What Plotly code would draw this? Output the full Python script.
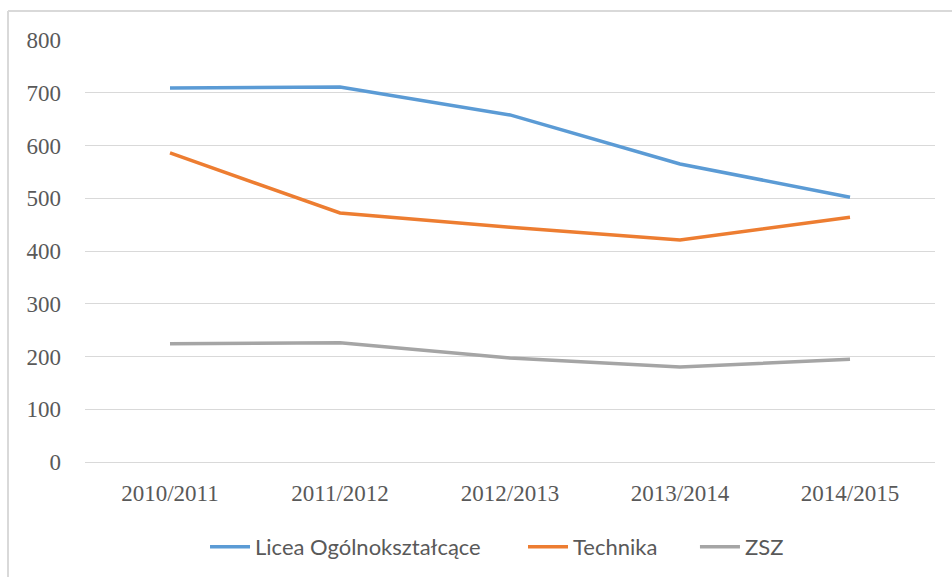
import plotly.graph_objects as go

years = ["2010/2011", "2011/2012", "2012/2013", "2013/2014", "2014/2015"]
licea = [709, 711, 658, 565, 502]
technika = [586, 472, 445, 421, 464]
zsz = [224, 226, 197, 180, 195]

series = [
    ("Licea Ogólnokształcące", licea, "#5B9BD5", "legend", 0.1412),
    ("Technika", technika, "#ED7D31", "legend2", 0.5153),
    ("ZSZ", zsz, "#A5A5A5", "legend3", 0.7176),
]

legend_font = dict(family="Lato, Liberation Sans, sans-serif", size=22, color="#595959")

fig = go.Figure()
legends = {}
for name, vals, col, lg, lx in series:
    fig.add_trace(go.Scatter(x=years, y=vals, name=name, mode="lines", legend=lg,
                             line=dict(color=col, width=3.5)))
    legends[lg] = dict(orientation="h", x=lx, xanchor="left",
                       y=0.052, yref="container", yanchor="middle",
                       font=legend_font, itemwidth=40, bgcolor="rgba(0,0,0,0)")

tick_font = dict(family="Liberation Serif, DejaVu Serif, serif", size=23, color="#595959")

fig.update_layout(
    width=952, height=577,
    margin=dict(l=85, r=17, t=40, b=115),
    plot_bgcolor="white", paper_bgcolor="white",
    showlegend=True,
    xaxis=dict(showgrid=False, showline=False, ticks="", tickfont=tick_font,
               ticklabelstandoff=15, range=[-0.5, 4.5]),
    yaxis=dict(range=[0, 800], dtick=100, showgrid=True, gridcolor="#d9d9d9",
               gridwidth=1, zeroline=True, zerolinecolor="#d9d9d9", zerolinewidth=1,
               showline=False, ticks="", tickfont=tick_font, ticklabelstandoff=23),
    shapes=[
        dict(type="line", xref="paper", yref="paper", x0=-0.0906, x1=1.1,
             y0=1.0687, y1=1.0687, line=dict(color="#d9d9d9", width=2)),
        dict(type="line", xref="paper", yref="paper", x0=-0.0906, x1=-0.0906,
             y0=1.0687, y1=-0.4, line=dict(color="#d9d9d9", width=2)),
    ],
    **legends,
)

fig.write_html("out.html", config={"displayModeBar": False},
               post_script="document.body.style.margin='0';")
